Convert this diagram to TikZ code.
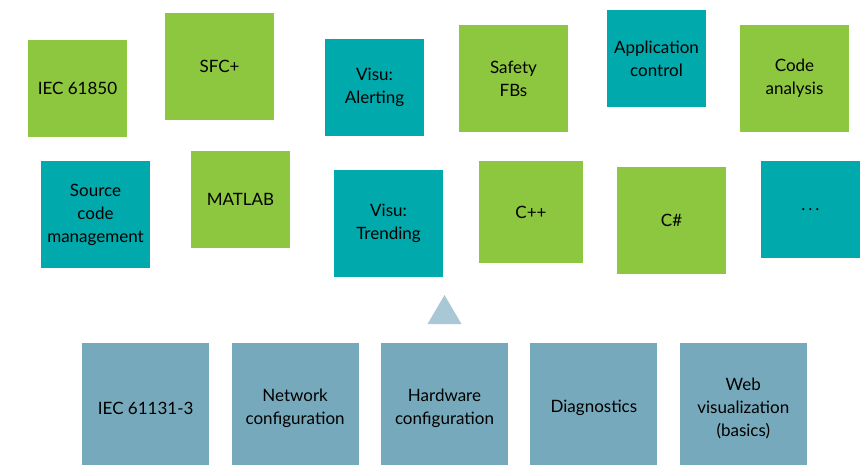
\documentclass[tikz,border=0pt]{standalone}
\usepackage{fontspec}
\setmainfont{Lato}
\usetikzlibrary{positioning}
\definecolor{leaf}{RGB}{141,198,63}
\definecolor{sea}{RGB}{0,169,172}
\definecolor{slate}{RGB}{118,169,188}
\definecolor{mist}{RGB}{169,200,214}

\begin{document}
\begin{tikzpicture}[x=1pt, y=-1pt, node distance=22pt, font=\fontsize{17}{23}\selectfont]
\tikzstyle{every node}=[inner sep=0pt, align=center, text=black]
\tikzstyle{small}=[minimum width=99pt, minimum height=97pt]
\tikzstyle{big}=[minimum width=109pt, minimum height=107pt]
\tikzstyle{lime}=[fill=leaf]
\tikzstyle{aqua}=[fill=sea]
\tikzstyle{base}=[fill=slate, minimum width=127pt, minimum height=130pt]
\useasboundingbox (0,0) rectangle (860,464);
% add-ons, upper row
\node[small,lime]  (iec)    at (77.5,88.5)  {IEC 61850};
\node[big,lime]    (sfc)    at (219.5,66.5) {SFC+};
\node[small,aqua]  (alert)  at (374.5,87.5) {Visu:\\Alerting};
\node[big,lime]    (safety) at (513.5,78.5) {Safety\\FBs};
\node[small,aqua]  (app)    at (656.5,58.5) {Application\\control};
\node[big,lime]    (code)   at (794.5,78.5) {Code\\analysis};
% add-ons, lower row
\node[big,aqua]    (scm)    at (95.5,214.5) {Source\\code\\management};
\node[small,lime]  (matlab) at (240.5,199.5) {MATLAB};
\node[big,aqua]    (trend)  at (388.5,223.5) {Visu:\\Trending};
\node[lime, minimum width=104pt, minimum height=102pt] (cpp) at (531,212) {C++};
\node[big,lime]    (cs)     at (671.5,220.5) {C\#};
\node[small,aqua]  (more)   at (810.5,209.5) {.\hspace{3pt}.\hspace{3pt}.};
% base system
\node[base, anchor=north west] (b1) at (82,343) {IEC 61131-3};
\node[base]    (b2)[right=of b1]    {Network\\configuration};
\node[base]    (b3)[right=of b2]    {Hardware\\configuration};
\node[base]    (b4)[right=of b3]    {Diagnostics};
\node[base]    (b5)[right=of b4]    {Web\\visualization\\(basics)};
\fill[mist] ([yshift=48pt]b3.north) -- ([xshift=-17pt,yshift=19pt]b3.north)
    -- ([xshift=17pt,yshift=19pt]b3.north) -- cycle;
\end{tikzpicture}
\end{document}
